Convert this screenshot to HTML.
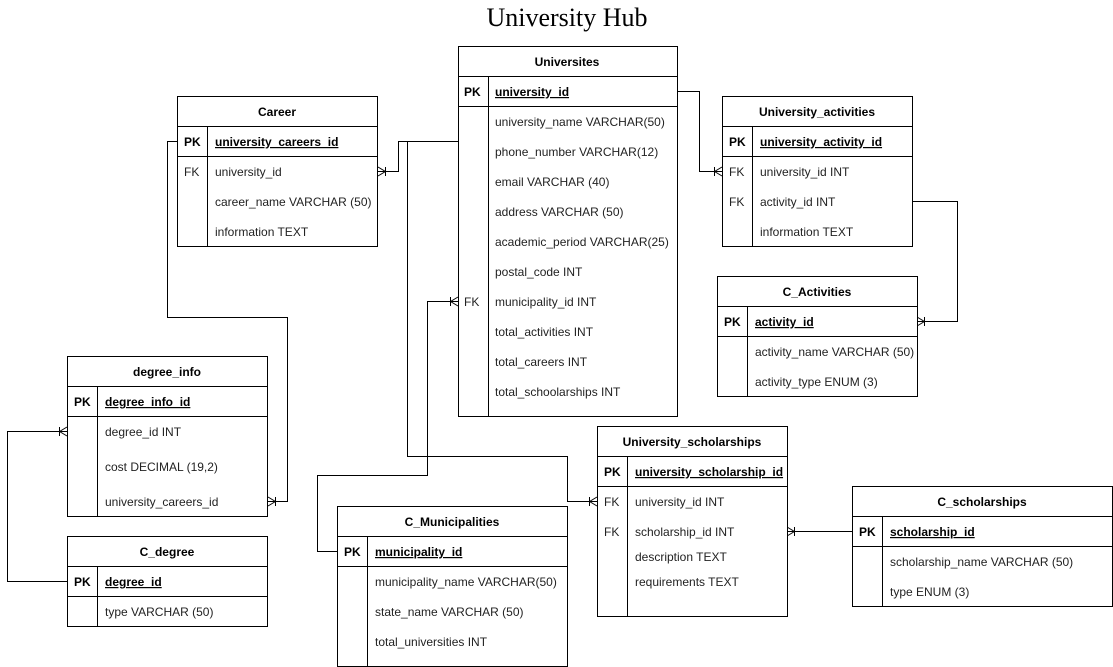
<!DOCTYPE html>
<html><head><meta charset="utf-8"><style>
html,body{margin:0;padding:0;background:#fff;}
svg{display:block;font-family:"Liberation Sans",Arial,sans-serif;}
.t{font-size:12px;fill:#222;}
.h{font-size:12px;font-weight:bold;fill:#000;}
.k{font-size:12px;font-weight:bold;fill:#000;text-decoration:underline;}
</style></head><body>
<svg width="1113" height="667" viewBox="0 0 1113 667">
<text x="567" y="26" text-anchor="middle" style="font-family:'Liberation Serif',serif;font-size:26px;fill:#000">University Hub</text>
<g fill="none" stroke="#000" stroke-width="1">
<polyline points="458.5,141.5 398.5,141.5 398.5,171.5 378,171.5"/>
<polyline points="407.5,141.5 407.5,456.5 567.5,456.5 567.5,501.5 597,501.5"/>
<polyline points="337,551.5 317.5,551.5 317.5,475.5 427.5,475.5 427.5,301.5 458,301.5"/>
<polyline points="177,141.5 167.5,141.5 167.5,317.5 287.5,317.5 287.5,501.5 268,501.5"/>
<polyline points="67,581.5 7.5,581.5 7.5,431.5 67,431.5"/>
<polyline points="677,91.5 699.5,91.5 699.5,171.5 722,171.5"/>
<polyline points="912,201.5 957.5,201.5 957.5,321.5 917,321.5"/>
<polyline points="852,531.5 787,531.5"/>
<path d="M589.5,497 V506 M589.5,501.5 L597,497 M589.5,501.5 L597,506"/>
<path d="M450.5,297 V306 M450.5,301.5 L458,297 M450.5,301.5 L458,306"/>
<path d="M59.5,427 V436 M59.5,431.5 L67,427 M59.5,431.5 L67,436"/>
<path d="M714.5,167 V176 M714.5,171.5 L722,167 M714.5,171.5 L722,176"/>
<path d="M385.5,167 V176 M385.5,171.5 L378,167 M385.5,171.5 L378,176"/>
<path d="M275.5,497 V506 M275.5,501.5 L268,497 M275.5,501.5 L268,506"/>
<path d="M924.5,317 V326 M924.5,321.5 L917,317 M924.5,321.5 L917,326"/>
<path d="M794.5,527 V536 M794.5,531.5 L787,527 M794.5,531.5 L787,536"/>
</g>
<g fill="#fff" stroke="#000" stroke-width="1">
<rect x="458.5" y="46.5" width="219" height="370"/>
<path d="M458.5,76.5 H677.5 M458.5,106.5 H677.5 M488.5,76.5 V416.5"/>
<rect x="177.5" y="96.5" width="200" height="150"/>
<path d="M177.5,126.5 H377.5 M177.5,156.5 H377.5 M207.5,126.5 V246.5"/>
<rect x="722.5" y="96.5" width="190" height="150"/>
<path d="M722.5,126.5 H912.5 M722.5,156.5 H912.5 M752.5,126.5 V246.5"/>
<rect x="717.5" y="276.5" width="200" height="120"/>
<path d="M717.5,306.5 H917.5 M717.5,336.5 H917.5 M747.5,306.5 V396.5"/>
<rect x="67.5" y="356.5" width="200" height="160"/>
<path d="M67.5,386.5 H267.5 M67.5,416.5 H267.5 M97.5,386.5 V516.5"/>
<rect x="67.5" y="536.5" width="200" height="90"/>
<path d="M67.5,566.5 H267.5 M67.5,596.5 H267.5 M97.5,566.5 V626.5"/>
<rect x="337.5" y="506.5" width="230" height="160"/>
<path d="M337.5,536.5 H567.5 M337.5,566.5 H567.5 M367.5,536.5 V666.5"/>
<rect x="597.5" y="426.5" width="190" height="190"/>
<path d="M597.5,456.5 H787.5 M597.5,486.5 H787.5 M627.5,456.5 V616.5"/>
<rect x="852.5" y="486.5" width="260" height="120"/>
<path d="M852.5,516.5 H1112.5 M852.5,546.5 H1112.5 M882.5,516.5 V606.5"/>
</g>
<g>
<text class="h" x="567" y="66" text-anchor="middle">Universites</text>
<text class="h" x="464" y="96">PK</text><text class="k" x="495" y="96">university_id</text>
<text class="t" x="495" y="126">university_name VARCHAR(50)</text>
<text class="t" x="495" y="156">phone_number VARCHAR(12)</text>
<text class="t" x="495" y="186">email VARCHAR (40)</text>
<text class="t" x="495" y="216">address VARCHAR (50)</text>
<text class="t" x="495" y="246">academic_period VARCHAR(25)</text>
<text class="t" x="495" y="276">postal_code INT</text>
<text class="t" x="464" y="306">FK</text><text class="t" x="495" y="306">municipality_id INT</text>
<text class="t" x="495" y="336">total_activities  INT</text>
<text class="t" x="495" y="366">total_careers  INT</text>
<text class="t" x="495" y="396">total_schoolarships  INT</text>

<text class="h" x="277" y="116" text-anchor="middle">Career</text>
<text class="h" x="184" y="146">PK</text><text class="k" x="215" y="146">university_careers_id</text>
<text class="t" x="184" y="176">FK</text><text class="t" x="215" y="176">university_id</text>
<text class="t" x="215" y="206">career_name VARCHAR (50)</text>
<text class="t" x="215" y="236">information TEXT</text>

<text class="h" x="817" y="116" text-anchor="middle">University_activities</text>
<text class="h" x="729" y="146">PK</text><text class="k" x="760" y="146">university_activity_id</text>
<text class="t" x="729" y="176">FK</text><text class="t" x="760" y="176">university_id INT</text>
<text class="t" x="729" y="206">FK</text><text class="t" x="760" y="206">activity_id INT</text>
<text class="t" x="760" y="236">information TEXT</text>

<text class="h" x="817" y="296" text-anchor="middle">C_Activities</text>
<text class="h" x="724" y="326">PK</text><text class="k" x="755" y="326">activity_id</text>
<text class="t" x="755" y="356">activity_name VARCHAR (50)</text>
<text class="t" x="755" y="386">activity_type ENUM (3)</text>

<text class="h" x="167" y="376" text-anchor="middle">degree_info</text>
<text class="h" x="74" y="406">PK</text><text class="k" x="105" y="406">degree_info_id</text>
<text class="t" x="105" y="436">degree_id INT</text>
<text class="t" x="105" y="471">cost DECIMAL (19,2)</text>
<text class="t" x="105" y="506">university_careers_id</text>

<text class="h" x="167" y="556" text-anchor="middle">C_degree</text>
<text class="h" x="74" y="586">PK</text><text class="k" x="105" y="586">degree_id</text>
<text class="t" x="105" y="616">type VARCHAR (50)</text>

<text class="h" x="452" y="526" text-anchor="middle">C_Municipalities</text>
<text class="h" x="344" y="556">PK</text><text class="k" x="375" y="556">municipality_id</text>
<text class="t" x="375" y="586">municipality_name VARCHAR(50)</text>
<text class="t" x="375" y="616">state_name VARCHAR (50)</text>
<text class="t" x="375" y="646">total_universities INT</text>

<text class="h" x="692" y="446" text-anchor="middle">University_scholarships</text>
<text class="h" x="604" y="476">PK</text><text class="k" x="635" y="476">university_scholarship_id</text>
<text class="t" x="604" y="506">FK</text><text class="t" x="635" y="506">university_id INT</text>
<text class="t" x="604" y="536">FK</text><text class="t" x="635" y="536">scholarship_id INT</text>
<text class="t" x="635" y="561">description TEXT</text>
<text class="t" x="635" y="586">requirements TEXT</text>

<text class="h" x="982" y="506" text-anchor="middle">C_scholarships</text>
<text class="h" x="859" y="536">PK</text><text class="k" x="890" y="536">scholarship_id</text>
<text class="t" x="890" y="566">scholarship_name VARCHAR (50)</text>
<text class="t" x="890" y="596">type ENUM (3)</text>
</g>
</svg>
</body></html>
